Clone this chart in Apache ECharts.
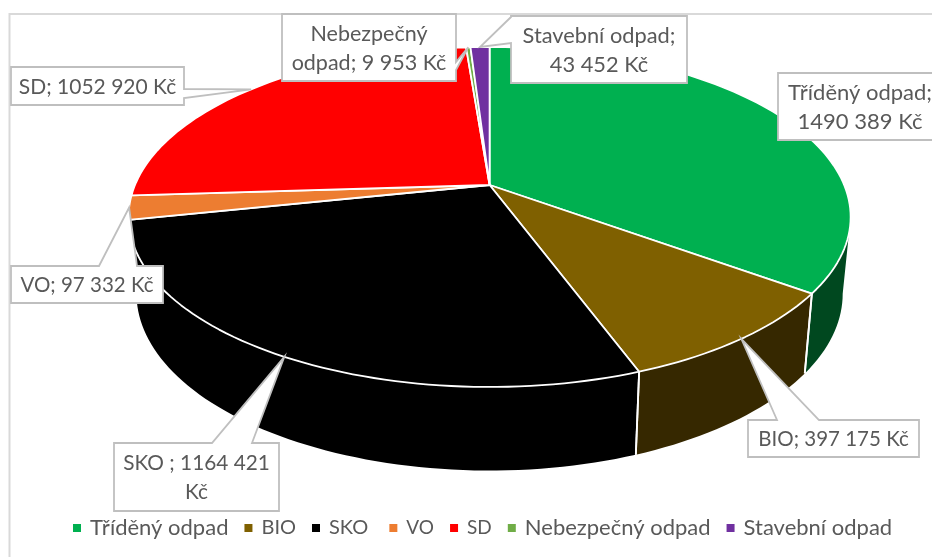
<!DOCTYPE html>
<html>
<head>
<meta charset="utf-8">
<style>html,body{margin:0;padding:0;background:#fff;overflow:hidden}#c{width:932px;height:557px}</style>
<script src="https://cdn.jsdelivr.net/npm/echarts@6/dist/echarts.min.js"></script>
</head>
<body>
<div id="c"></div>
<script>
// --- data ---
const categories = ['Tříděný odpad', 'BIO', 'SKO ', 'VO', 'SD', 'Nebezpečný odpad', 'Stavební odpad'];
const values = [1490389, 397175, 1164421, 97332, 1052920, 9953, 43452];
const labelLines = [
  ['Tříděný odpad;', '1490 389 Kč'],
  ['BIO; 397 175 Kč'],
  ['SKO ; 1164 421', 'Kč'],
  ['VO; 97 332 Kč'],
  ['SD; 1052 920 Kč'],
  ['Nebezpečný', 'odpad; 9 953 Kč'],
  ['Stavební odpad;', '43 452 Kč']
];
// --- styles ---
const topColors = ['#00b050', '#7f6000', '#000000', '#ed7d31', '#ff0000', '#70ad47', '#7030a0'];
const wallColors = ['#00481f', '#362800', '#000000', '#6b3410', '#700000', '#30491c', '#301546'];
const labelSizes = [22, 20.5, 20.8, 20.5, 21, 21.5, 21.8];
const legendSizes = [22, 20, 20, 19, 19, 22, 22];
// --- layout: label box [x0,y0,x1,y1], wedge base points and the edge they sit on ---
const boxes = [
  {r:[778,73,942,140], base:null},
  {r:[748,420,919,457], edge:'top', base:[777,819]},
  {r:[114,443,279,511], edge:'top', base:[212,252]},
  {r:[11,266,163,303], edge:'top', base:[99,137]},
  {r:[11,67,184,105], edge:'right', base:[89,98]},
  {r:[282,14,456,81], edge:'right', base:[62,70]},
  {r:[511,16,687,83], edge:'left', base:[17,43]}
];
const P = {cx:489.6, cy:185, A:354.6, B:164, k:0.188, wallScaleX:0.978, wallScaleY:1.04, wallDy:75.5};

const total = values.reduce((a, b) => a + b, 0);
const angles = [];
values.reduce((acc, v, i) => { angles[i] = [acc / total * 2 * Math.PI, (acc + v) / total * 2 * Math.PI]; return acc + v; }, 0);

const tangentR = Math.acos(-P.k), tangentL = 2 * Math.PI - tangentR;

function rim(t) {
  const X = Math.sin(t), Y = -Math.cos(t), w = 1 - P.k * Y;
  return [P.cx + P.A * X / w, P.cy + P.B * Y / w];
}
function low(t) {
  const p = rim(t);
  return [P.cx + (p[0] - P.cx) * P.wallScaleX, P.cy + (p[1] - P.cy) * P.wallScaleY + P.wallDy];
}
function arcSteps(a, b) {
  const n = Math.max(2, Math.ceil((b - a) / (Math.PI / 120)));
  const out = [];
  for (let i = 0; i <= n; i++) out.push(a + (b - a) * i / n);
  return out;
}
function calloutPoints(box, tip) {
  const [x0, y0, x1, y1] = box.r;
  if (!box.base) return [[x0, y0], [x1, y0], [x1, y1], [x0, y1]];
  const [a, b] = box.base;
  if (box.edge === 'top') return [[x0, y0], [a, y0], tip, [b, y0], [x1, y0], [x1, y1], [x0, y1]];
  if (box.edge === 'right') return [[x0, y0], [x1, y0], [x1, a], tip, [x1, b], [x1, y1], [x0, y1]];
  return [[x0, y0], [x1, y0], [x1, y1], [x0, y1], [x0, b], tip, [x0, a]];
}
function renderSlice(i) {
  return function () {
    const [a, b] = angles[i];
    const steps = arcSteps(a, b);
    const children = [];
    const mid = (a + b) / 2;
    // side wall: only the front part between the two silhouette tangents
    const wa = Math.max(a, tangentR), wb = Math.min(b, tangentL);
    if (wb > wa) {
      const ws = arcSteps(wa, wb);
      children.push({
        type: 'polygon', z2: 10, silent: true,
        shape: {points: ws.map(rim).concat(ws.slice().reverse().map(low))},
        style: {fill: wallColors[i]}
      });
      [wa, wb].forEach(t => {
        if (t === a || t === b) {
          const p = rim(t), q = low(t);
          children.push({type: 'line', z2: 30, silent: true,
            shape: {x1: p[0], y1: p[1], x2: q[0], y2: q[1]},
            style: {stroke: '#ffffff', lineWidth: 1.8}});
        }
      });
    }
    // top face
    const face = [[P.cx, P.cy]].concat(steps.map(rim));
    children.push({type: 'polygon', z2: 50, silent: true,
      shape: {points: face},
      style: {fill: topColors[i], stroke: '#ffffff', lineWidth: 1.8, lineJoin: 'round'}});
    // callout
    const box = boxes[i];
    const tip = rim(mid);
    children.push({type: 'polygon', z2: 100, silent: true,
      shape: {points: calloutPoints(box, tip)},
      style: {fill: '#ffffff', stroke: '#bfbfbf', lineWidth: 1.8, lineJoin: 'miter'}});
    const lines = labelLines[i];
    const cx = (box.r[0] + box.r[2]) / 2, cy = (box.r[1] + box.r[3]) / 2;
    lines.forEach((t, n) => {
      children.push({type: 'text', z2: 110, silent: true,
        style: {text: t, x: cx, y: cy + (n - (lines.length - 1) / 2) * 29.5 + 1,
          align: 'center', verticalAlign: 'middle', fill: '#595959',
          font: labelSizes[i] + 'px Lato, Carlito, sans-serif'}});
    });
    return {type: 'group', children: children};
  };
}

const chart = echarts.init(document.getElementById('c'), null, {renderer: 'canvas'});
chart.setOption({
  animation: false,
  backgroundColor: '#ffffff',
  graphic: [{type: 'rect', z: -10, silent: true, shape: {x: 9.5, y: 14, width: 1200, height: 1000},
    style: {fill: 'none', stroke: '#d9d9d9', lineWidth: 2}}],
  legend: {
    left: 68, top: 512, itemWidth: 8, itemHeight: 8, itemGap: 16, icon: 'rect',
    selectedMode: false,
    data: categories.map((name, i) => ({name: name, textStyle: {fontSize: legendSizes[i]}})),
    textStyle: {color: '#595959', fontFamily: 'Lato', fontSize: 22, padding: [0, 0, 0, 4]}
  },
  series: categories.map((name, i) => ({
    type: 'custom', name: name, coordinateSystem: 'none',
    silent: true,
    itemStyle: {color: topColors[i]},
    data: [[values[i]]],
    renderItem: renderSlice(i)
  }))
});
</script>
</body>
</html>
